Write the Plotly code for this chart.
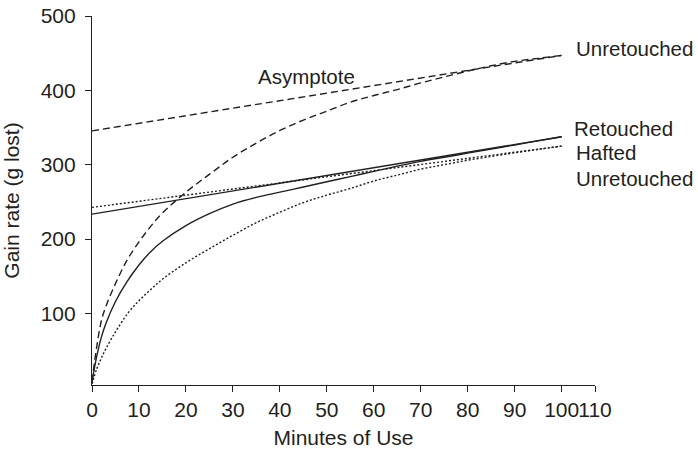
import plotly.graph_objects as go

# Data
minutes = [0, 1, 2, 3, 5, 7.5, 10, 12.5, 15, 20, 25, 30, 35, 40, 45, 50, 55, 60, 65, 70, 75, 80, 85, 90, 95, 100]
unretouched_dashed = [8, 55, 90, 110, 140, 172, 196, 217, 235, 263, 287, 310, 329, 346, 360, 372, 384, 393, 401, 410, 418, 426, 433, 439, 443, 447]
retouched = [8, 42, 68, 87, 116, 143, 165, 183, 197, 218, 234, 247, 256, 263, 270, 277, 284, 291, 298, 304.5, 310, 315.5, 321, 326.5, 332, 337.5]
hafted_unretouched = [5, 25, 40, 53, 75, 99, 117, 132, 146, 168, 187, 205, 222, 236, 249, 259, 268, 278, 286, 294, 300, 306, 311, 316, 320.5, 325]

asym_x = [0, 100]
asym_unretouched = [345.5, 447]
asym_retouched = [233.5, 337.5]
asym_hafted = [242.5, 325]

x_tickvals = [0, 10, 20, 30, 40, 50, 60, 70, 80, 90, 100, 107.1]
x_ticktext = ["0", "10", "20", "30", "40", "50", "60", "70", "80", "90", "100", "110"]
y_tickvals = [100, 200, 300, 400, 500]

INK = "#231f20"
FONT = "Liberation Sans, Arial, Helvetica, sans-serif"

fig = go.Figure()

def add(x, y, dash, shape="spline"):
    fig.add_trace(go.Scatter(x=x, y=y, mode="lines",
                             line=dict(color=INK, width=1.4, dash=dash, shape=shape),
                             showlegend=False, hoverinfo="skip"))

add(minutes, unretouched_dashed, "7px,4px")
add(asym_x, asym_unretouched, "7px,4px", "linear")
add(minutes, retouched, "solid")
add(asym_x, asym_retouched, "solid", "linear")
add(minutes, hafted_unretouched, "2px,2px")
add(asym_x, asym_hafted, "2px,2px", "linear")

labels = [
    (45.6, 419, "Asymptote", "center"),
    (102.6, 456.5, "Unretouched", "left"),
    (102.1, 349, "Retouched", "left"),
    (102.6, 317, "Hafted", "left"),
    (102.6, 282, "Unretouched", "left"),
]
for x, y, t, anc in labels:
    fig.add_annotation(x=x, y=y, text=t, showarrow=False, xanchor=anc, yanchor="middle",
                       font=dict(family=FONT, size=20.5, color=INK))

fig.update_layout(
    width=698, height=449,
    margin=dict(l=92, r=103, t=16, b=64),
    plot_bgcolor="white", paper_bgcolor="white",
    font=dict(family=FONT, size=21, color=INK),
    xaxis=dict(range=[0, 107.1], tickvals=x_tickvals, ticktext=x_ticktext, tickangle=0,
               automargin=False,
               showgrid=False, zeroline=False, showline=True, linecolor=INK, linewidth=1.2,
               ticks="outside", ticklen=6, tickcolor=INK, tickwidth=1.2,
               tickfont=dict(family=FONT, size=21, color=INK),
               title=dict(text="Minutes of Use", font=dict(family=FONT, size=21, color=INK))),
    yaxis=dict(range=[3.6, 500], tickvals=y_tickvals, showgrid=False, zeroline=False,
               automargin=False, ticklabelstandoff=5,
               showline=True, linecolor=INK, linewidth=1.2,
               ticks="outside", ticklen=6, tickcolor=INK, tickwidth=1.2,
               tickfont=dict(family=FONT, size=21, color=INK),
               title=dict(text="Gain rate (g lost)", font=dict(family=FONT, size=21, color=INK))),
)

fig.write_html("out.html", config={"displayModeBar": False},
               post_script="document.body.style.margin='0';document.body.style.overflow='hidden';")
